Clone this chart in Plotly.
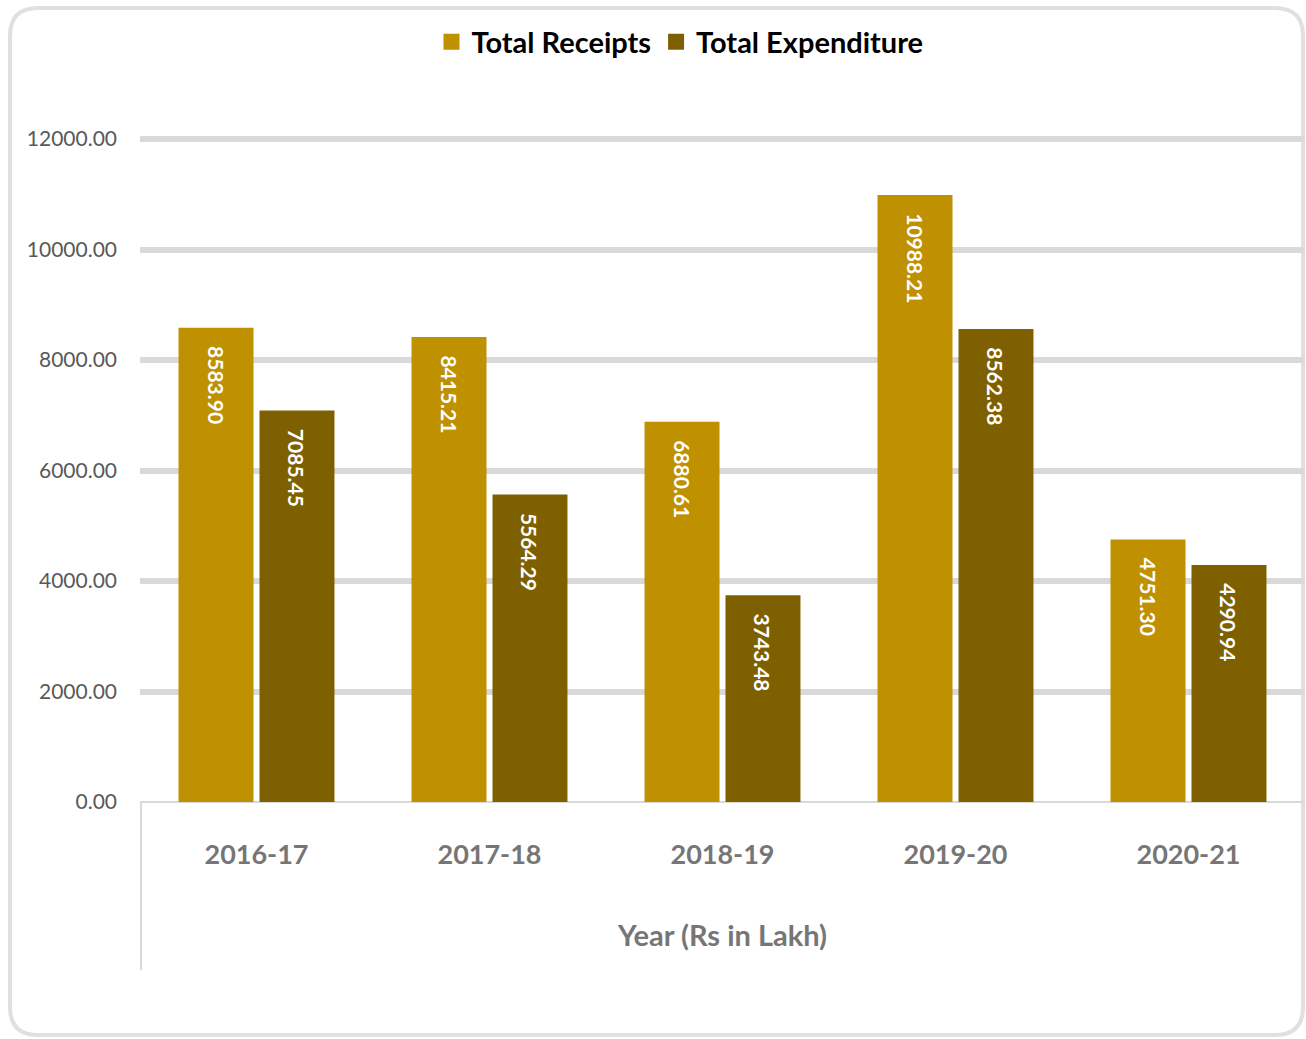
import plotly.graph_objects as go

years = ["2016-17", "2017-18", "2018-19", "2019-20", "2020-21"]
receipts = [8583.90, 8415.21, 6880.61, 10988.21, 4751.30]
expenditure = [7085.45, 5564.29, 3743.48, 8562.38, 4290.94]
series_names = ["Total Receipts", "Total Expenditure"]
y_ticks = [0, 2000, 4000, 6000, 8000, 10000, 12000]

W, H = 1306, 1039
L, R, T, B = 140, 1, 139, 1039 - 802
PW, PH = W - L - R, H - T - B

def px(x):
    return (x - L) / PW

def py(y):
    return (H - B - y) / PH

FONT = "Lato"
colors = ["#BF9000", "#7F6000"]
PAD = "\u00a0\u00a0\u00a0"

fig = go.Figure()
for name, vals, c in zip(series_names, [receipts, expenditure], colors):
    fig.add_trace(go.Bar(
        x=years, y=vals, name=name, marker=dict(color=c, line=dict(width=0)),
        text=[PAD + f"{v:.2f}" for v in vals], textposition="inside",
        insidetextanchor="end", textangle=90,
        textfont=dict(family=FONT, size=21, color="white", weight="bold"),
        cliponaxis=False, showlegend=False,
    ))
    # legend entry with a larger square swatch
    fig.add_trace(go.Scatter(
        x=[None], y=[None], mode="markers", name=name,
        marker=dict(symbol="square", size=16, color=c), showlegend=True,
    ))

# rounded border
x0, x1, y0, y1, r = 10, 1303, 8, 1035, 28
path = (f"M {px(x0+r)},{py(y0)} L {px(x1-r)},{py(y0)} Q {px(x1)},{py(y0)} {px(x1)},{py(y0+r)} "
        f"L {px(x1)},{py(y1-r)} Q {px(x1)},{py(y1)} {px(x1-r)},{py(y1)} "
        f"L {px(x0+r)},{py(y1)} Q {px(x0)},{py(y1)} {px(x0)},{py(y1-r)} "
        f"L {px(x0)},{py(y0+r)} Q {px(x0)},{py(y0)} {px(x0+r)},{py(y0)} Z")
shapes = [
    dict(type="path", path=path, xref="paper", yref="paper",
         line=dict(color="#E0E0E0", width=4), layer="below"),
    dict(type="line", xref="paper", yref="paper", x0=px(141), x1=px(141),
         y0=py(802), y1=py(970), line=dict(color="#D9D9D9", width=2)),
    # gridline at the top of the range (plotly omits it at the edge)
    dict(type="line", xref="paper", yref="paper", x0=0, x1=1, y0=1, y1=1,
         line=dict(color="#D9D9D9", width=6), layer="below"),
]

fig.update_layout(
    width=W, height=H,
    margin=dict(l=L, r=R, t=T, b=B, autoexpand=False),
    paper_bgcolor="white", plot_bgcolor="white",
    barmode="group", bargap=0.305, bargroupgap=0.074,
    font=dict(family=FONT),
    shapes=shapes,
    showlegend=True,
    legend=dict(orientation="h", x=px(680), xanchor="center", y=py(42), yanchor="middle",
                font=dict(family=FONT, size=29, color="#000000", weight="bold"),
                itemwidth=30, traceorder="normal", bgcolor="rgba(0,0,0,0)"),
    xaxis=dict(
        showgrid=False, showline=False, ticks="",
        tickfont=dict(family=FONT, size=27, color="#767676", weight="bold"),
        ticklabelstandoff=34,
        title=dict(text="Year (Rs in Lakh)", standoff=56,
                   font=dict(family=FONT, size=29, color="#767676", weight="bold")),
    ),
    yaxis=dict(
        range=[0, 12000], tickvals=y_ticks, tickformat=".2f",
        showgrid=True, gridcolor="#D9D9D9", gridwidth=6,
        zeroline=True, zerolinecolor="#D9D9D9", zerolinewidth=2,
        showline=False, ticks="",
        tickfont=dict(family=FONT, size=21, color="#595959"),
        ticklabelstandoff=22,
    ),
)

fig.write_html(
    "out.html",
    config={"displayModeBar": False},
    post_script="document.body.style.margin='0';document.body.style.overflow='hidden';"
                "document.documentElement.style.overflow='hidden';",
)
